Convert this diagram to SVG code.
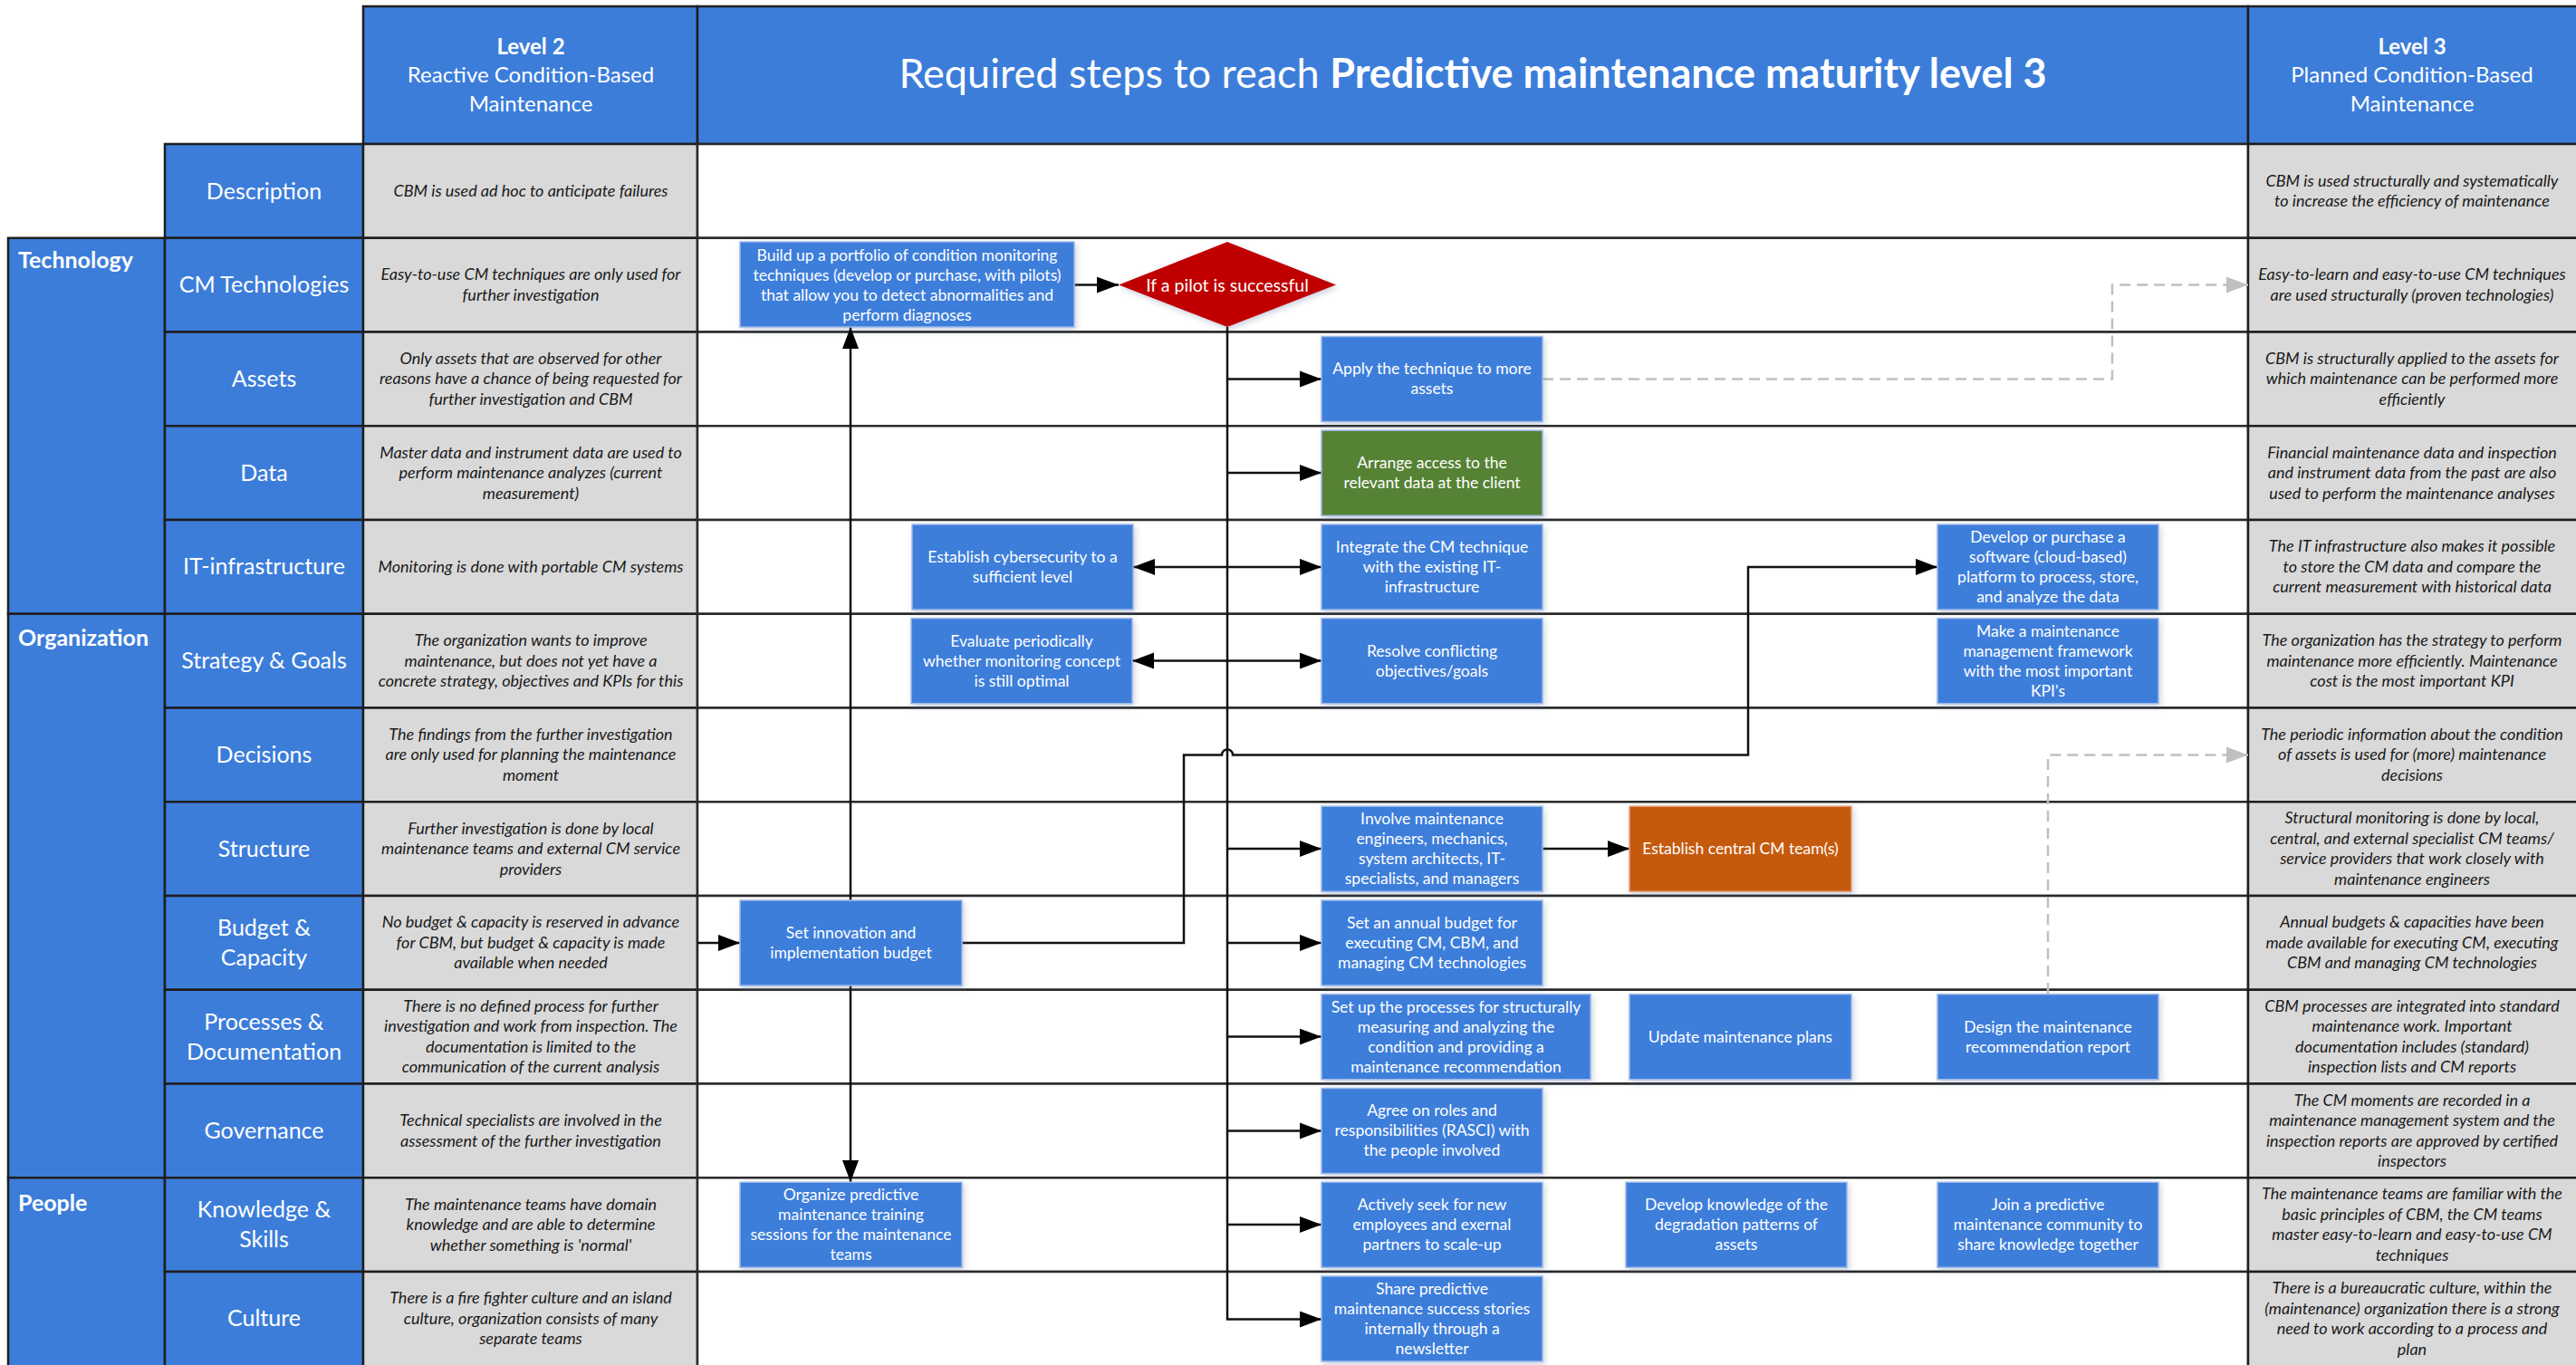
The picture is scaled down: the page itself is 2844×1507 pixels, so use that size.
<svg xmlns="http://www.w3.org/2000/svg" width="2844" height="1507" viewBox="0 0 2844 1507">
<style>
.bl{fill:#3C7DDA;stroke:#1E1E1E;stroke-width:2.5}
.gr{fill:#D9D9D9;stroke:#1E1E1E;stroke-width:2.5}
.wh{fill:#FFFFFF;stroke:#2A2A2A;stroke-width:2.5}
.cat{font-family:Lato,'Liberation Sans',sans-serif;font-weight:bold;font-size:25px;fill:#fff}
.lbl{font-family:Lato,'Liberation Sans',sans-serif;font-size:25px;fill:#fff;text-anchor:middle}
.hd{font-family:Lato,'Liberation Sans',sans-serif;font-size:24px;fill:#fff;text-anchor:middle}
.ttl{font-family:Lato,'Liberation Sans',sans-serif;font-size:45px;fill:#fff;text-anchor:middle}
.c2{font-family:Lato,'Liberation Sans',sans-serif;font-style:italic;font-size:18px;fill:#1A1A1A;text-anchor:middle}
.box{fill:#3C7EDB;stroke:#9DB8E8;stroke-width:1.5;filter:url(#sh)}
.grn{fill:#548235;stroke:#9DB8E8;stroke-width:1.5;filter:url(#sh)}
.org{fill:#C55A11;stroke:#E3A27A;stroke-width:1.5;filter:url(#sh)}
.red{fill:#C00000;filter:url(#sh)}
.bt{font-family:Lato,'Liberation Sans',sans-serif;font-size:17.5px;fill:#fff;text-anchor:middle}
.cn{stroke:#111;stroke-width:2.5;fill:none}
.ds{stroke:#C0C0C0;stroke-width:2.5;stroke-dasharray:12 7;fill:none}
</style>
<defs>
<filter id="sh" x="-10%" y="-10%" width="130%" height="140%">
<feDropShadow dx="2" dy="3" stdDeviation="3" flood-color="#5a6f96" flood-opacity="0.3"/>
</filter>
<marker id="ah" markerUnits="userSpaceOnUse" markerWidth="26" markerHeight="20" refX="24" refY="9" orient="auto-start-reverse">
<path d="M0,0 L24,9 L0,18 Z" fill="#000"/>
</marker>
<marker id="ahg" markerUnits="userSpaceOnUse" markerWidth="26" markerHeight="20" refX="24" refY="9" orient="auto">
<path d="M0,0 L24,9 L0,18 Z" fill="#C0C0C0"/>
</marker>
</defs>
<rect x="0" y="0" width="2844" height="1507" fill="#fff"/>

<g id="table">
<!-- headers -->
<rect class="bl" x="401" y="7" width="369" height="152"/>
<rect class="bl" x="770" y="7" width="1712" height="152"/>
<rect class="bl" x="2482" y="7" width="370" height="152"/>
<text class="hd" x="586" y="60" font-weight="bold">Level 2</text>
<text class="hd" x="586" y="91">Reactive Condition-Based</text>
<text class="hd" x="586" y="123">Maintenance</text>
<text class="ttl" x="1626" y="97">Required steps to reach <tspan font-weight="bold">Predictive maintenance maturity level 3</tspan></text>
<text class="hd" x="2663" y="60" font-weight="bold">Level 3</text>
<text class="hd" x="2663" y="91">Planned Condition-Based</text>
<text class="hd" x="2663" y="123">Maintenance</text>

<!-- categories -->
<rect class="bl" x="9" y="262.75" width="173" height="415"/>
<rect class="bl" x="9" y="677.75" width="173" height="622.5"/>
<rect class="bl" x="9" y="1300.25" width="173" height="212"/>
<text class="cat" x="20" y="296">Technology</text>
<text class="cat" x="20" y="713">Organization</text>
<text class="cat" x="20" y="1337">People</text>

<!-- label column -->
<rect class="bl" x="182" y="159" width="219" height="103.75"/>
<rect class="bl" x="182" y="262.75" width="219" height="103.75"/>
<rect class="bl" x="182" y="366.5" width="219" height="103.75"/>
<rect class="bl" x="182" y="470.25" width="219" height="103.75"/>
<rect class="bl" x="182" y="574" width="219" height="103.75"/>
<rect class="bl" x="182" y="677.75" width="219" height="103.75"/>
<rect class="bl" x="182" y="781.5" width="219" height="103.75"/>
<rect class="bl" x="182" y="885.25" width="219" height="103.75"/>
<rect class="bl" x="182" y="989" width="219" height="103.75"/>
<rect class="bl" x="182" y="1092.75" width="219" height="103.75"/>
<rect class="bl" x="182" y="1196.5" width="219" height="103.75"/>
<rect class="bl" x="182" y="1300.25" width="219" height="103.75"/>
<rect class="bl" x="182" y="1404" width="219" height="108"/>
<text class="lbl" x="291.5" y="219.5">Description</text>
<text class="lbl" x="291.5" y="323.1">CM Technologies</text>
<text class="lbl" x="291.5" y="426.9">Assets</text>
<text class="lbl" x="291.5" y="530.6">Data</text>
<text class="lbl" x="291.5" y="634.4">IT-infrastructure</text>
<text class="lbl" x="291.5" y="738.1">Strategy &amp; Goals</text>
<text class="lbl" x="291.5" y="841.9">Decisions</text>
<text class="lbl" x="291.5" y="945.6">Structure</text>
<text class="lbl" x="291.5" y="1032.9">Budget &amp;<tspan x="291.5" dy="33">Capacity</tspan></text>
<text class="lbl" x="291.5" y="1136.6">Processes &amp;<tspan x="291.5" dy="33">Documentation</tspan></text>
<text class="lbl" x="291.5" y="1256.9">Governance</text>
<text class="lbl" x="291.5" y="1344.1">Knowledge &amp;<tspan x="291.5" dy="33">Skills</tspan></text>
<text class="lbl" x="291.5" y="1464.4">Culture</text>

<!-- level 2 column -->
<rect class="gr" x="401" y="159" width="369" height="103.75"/>
<rect class="gr" x="401" y="262.75" width="369" height="103.75"/>
<rect class="gr" x="401" y="366.5" width="369" height="103.75"/>
<rect class="gr" x="401" y="470.25" width="369" height="103.75"/>
<rect class="gr" x="401" y="574" width="369" height="103.75"/>
<rect class="gr" x="401" y="677.75" width="369" height="103.75"/>
<rect class="gr" x="401" y="781.5" width="369" height="103.75"/>
<rect class="gr" x="401" y="885.25" width="369" height="103.75"/>
<rect class="gr" x="401" y="989" width="369" height="103.75"/>
<rect class="gr" x="401" y="1092.75" width="369" height="103.75"/>
<rect class="gr" x="401" y="1196.5" width="369" height="103.75"/>
<rect class="gr" x="401" y="1300.25" width="369" height="103.75"/>
<rect class="gr" x="401" y="1404" width="369" height="108"/>
<text class="c2" x="586" y="217">CBM is used ad hoc to anticipate failures</text>
<text class="c2" x="586" y="309.4">Easy-to-use CM techniques are only used for<tspan x="586" dy="22.5">further investigation</tspan></text>
<text class="c2" x="586" y="401.9">Only assets that are observed for other<tspan x="586" dy="22.5">reasons have a chance of being requested for</tspan><tspan x="586" dy="22.5">further investigation and CBM</tspan></text>
<text class="c2" x="586" y="505.6">Master data and instrument data are used to<tspan x="586" dy="22.5">perform maintenance analyzes (current</tspan><tspan x="586" dy="22.5">measurement)</tspan></text>
<text class="c2" x="586" y="631.9">Monitoring is done with portable CM systems</text>
<text class="c2" x="586" y="713.1">The organization wants to improve<tspan x="586" dy="22.5">maintenance, but does not yet have a</tspan><tspan x="586" dy="22.5">concrete strategy, objectives and KPIs for this</tspan></text>
<text class="c2" x="586" y="816.9">The findings from the further investigation<tspan x="586" dy="22.5">are only used for planning the maintenance</tspan><tspan x="586" dy="22.5">moment</tspan></text>
<text class="c2" x="586" y="920.6">Further investigation is done by local<tspan x="586" dy="22.5">maintenance teams and external CM service</tspan><tspan x="586" dy="22.5">providers</tspan></text>
<text class="c2" x="586" y="1024.4">No budget &amp; capacity is reserved in advance<tspan x="586" dy="22.5">for CBM, but budget &amp; capacity is made</tspan><tspan x="586" dy="22.5">available when needed</tspan></text>
<text class="c2" x="586" y="1116.9">There is no defined process for further<tspan x="586" dy="22.5">investigation and work from inspection. The</tspan><tspan x="586" dy="22.5">documentation is limited to the</tspan><tspan x="586" dy="22.5">communication of the current analysis</tspan></text>
<text class="c2" x="586" y="1243.1">Technical specialists are involved in the<tspan x="586" dy="22.5">assessment of the further investigation</tspan></text>
<text class="c2" x="586" y="1335.6">The maintenance teams have domain<tspan x="586" dy="22.5">knowledge and are able to determine</tspan><tspan x="586" dy="22.5">whether something is 'normal'</tspan></text>
<text class="c2" x="586" y="1439.4">There is a fire fighter culture and an island<tspan x="586" dy="22.5">culture, organization consists of many</tspan><tspan x="586" dy="22.5">separate teams</tspan></text>

<!-- middle column -->
<rect class="wh" x="770" y="159" width="1712" height="103.75"/>
<rect class="wh" x="770" y="262.75" width="1712" height="103.75"/>
<rect class="wh" x="770" y="366.5" width="1712" height="103.75"/>
<rect class="wh" x="770" y="470.25" width="1712" height="103.75"/>
<rect class="wh" x="770" y="574" width="1712" height="103.75"/>
<rect class="wh" x="770" y="677.75" width="1712" height="103.75"/>
<rect class="wh" x="770" y="781.5" width="1712" height="103.75"/>
<rect class="wh" x="770" y="885.25" width="1712" height="103.75"/>
<rect class="wh" x="770" y="989" width="1712" height="103.75"/>
<rect class="wh" x="770" y="1092.75" width="1712" height="103.75"/>
<rect class="wh" x="770" y="1196.5" width="1712" height="103.75"/>
<rect class="wh" x="770" y="1300.25" width="1712" height="103.75"/>
<rect class="wh" x="770" y="1404" width="1712" height="108"/>

<!-- level 3 column -->
<rect class="gr" x="2482" y="159" width="370" height="103.75"/>
<rect class="gr" x="2482" y="262.75" width="370" height="103.75"/>
<rect class="gr" x="2482" y="366.5" width="370" height="103.75"/>
<rect class="gr" x="2482" y="470.25" width="370" height="103.75"/>
<rect class="gr" x="2482" y="574" width="370" height="103.75"/>
<rect class="gr" x="2482" y="677.75" width="370" height="103.75"/>
<rect class="gr" x="2482" y="781.5" width="370" height="103.75"/>
<rect class="gr" x="2482" y="885.25" width="370" height="103.75"/>
<rect class="gr" x="2482" y="989" width="370" height="103.75"/>
<rect class="gr" x="2482" y="1092.75" width="370" height="103.75"/>
<rect class="gr" x="2482" y="1196.5" width="370" height="103.75"/>
<rect class="gr" x="2482" y="1300.25" width="370" height="103.75"/>
<rect class="gr" x="2482" y="1404" width="370" height="108"/>
<text class="c2" x="2663" y="205.8">CBM is used structurally and systematically<tspan x="2663" dy="22.5">to increase the efficiency of maintenance</tspan></text>
<text class="c2" x="2663" y="309.4">Easy-to-learn and easy-to-use CM techniques<tspan x="2663" dy="22.5">are used structurally (proven technologies)</tspan></text>
<text class="c2" x="2663" y="401.9">CBM is structurally applied to the assets for<tspan x="2663" dy="22.5">which maintenance can be performed more</tspan><tspan x="2663" dy="22.5">efficiently</tspan></text>
<text class="c2" x="2663" y="505.6">Financial maintenance data and inspection<tspan x="2663" dy="22.5">and instrument data from the past are also</tspan><tspan x="2663" dy="22.5">used to perform the maintenance analyses</tspan></text>
<text class="c2" x="2663" y="609.4">The IT infrastructure also makes it possible<tspan x="2663" dy="22.5">to store the CM data and compare the</tspan><tspan x="2663" dy="22.5">current measurement with historical data</tspan></text>
<text class="c2" x="2663" y="713.1">The organization has the strategy to perform<tspan x="2663" dy="22.5">maintenance more efficiently. Maintenance</tspan><tspan x="2663" dy="22.5">cost is the most important KPI</tspan></text>
<text class="c2" x="2663" y="816.9">The periodic information about the condition<tspan x="2663" dy="22.5">of assets is used for (more) maintenance</tspan><tspan x="2663" dy="22.5">decisions</tspan></text>
<text class="c2" x="2663" y="909.4">Structural monitoring is done by local,<tspan x="2663" dy="22.5">central, and external specialist CM teams/</tspan><tspan x="2663" dy="22.5">service providers that work closely with</tspan><tspan x="2663" dy="22.5">maintenance engineers</tspan></text>
<text class="c2" x="2663" y="1024.4">Annual budgets &amp; capacities have been<tspan x="2663" dy="22.5">made available for executing CM, executing</tspan><tspan x="2663" dy="22.5">CBM and managing CM technologies</tspan></text>
<text class="c2" x="2663" y="1116.9">CBM processes are integrated into standard<tspan x="2663" dy="22.5">maintenance work. Important</tspan><tspan x="2663" dy="22.5">documentation includes (standard)</tspan><tspan x="2663" dy="22.5">inspection lists and CM reports</tspan></text>
<text class="c2" x="2663" y="1220.6">The CM moments are recorded in a<tspan x="2663" dy="22.5">maintenance management system and the</tspan><tspan x="2663" dy="22.5">inspection reports are approved by certified</tspan><tspan x="2663" dy="22.5">inspectors</tspan></text>
<text class="c2" x="2663" y="1324.4">The maintenance teams are familiar with the<tspan x="2663" dy="22.5">basic principles of CBM, the CM teams</tspan><tspan x="2663" dy="22.5">master easy-to-learn and easy-to-use CM</tspan><tspan x="2663" dy="22.5">techniques</tspan></text>
<text class="c2" x="2663" y="1428.1">There is a bureaucratic culture, within the<tspan x="2663" dy="22.5">(maintenance) organization there is a strong</tspan><tspan x="2663" dy="22.5">need to work according to a process and</tspan><tspan x="2663" dy="22.5">plan</tspan></text>
</g>

<g id="connectors">
<path class="cn" d="M1186,314.6 H1235" marker-end="url(#ah)"/>
<path class="cn" d="M939,994 V361" marker-end="url(#ah)"/>
<path class="cn" d="M939,1087 V1305" marker-end="url(#ah)"/>
<path class="cn" d="M770,1040.9 H817" marker-end="url(#ah)"/>
<path class="cn" d="M1355,361 V1456.5 H1459" marker-end="url(#ah)"/>
<path class="cn" d="M1355,418.4 H1459" marker-end="url(#ah)"/>
<path class="cn" d="M1355,522.1 H1459" marker-end="url(#ah)"/>
<path class="cn" d="M1251,625.9 H1459" marker-start="url(#ah)" marker-end="url(#ah)"/>
<path class="cn" d="M1250,729.6 H1459" marker-start="url(#ah)" marker-end="url(#ah)"/>
<path class="cn" d="M1355,937.1 H1459" marker-end="url(#ah)"/>
<path class="cn" d="M1355,1040.9 H1459" marker-end="url(#ah)"/>
<path class="cn" d="M1355,1144.6 H1459" marker-end="url(#ah)"/>
<path class="cn" d="M1355,1248.4 H1459" marker-end="url(#ah)"/>
<path class="cn" d="M1355,1352.1 H1459" marker-end="url(#ah)"/>
<path class="cn" d="M1703,937.1 H1799" marker-end="url(#ah)"/>
<path class="cn" d="M1062,1040.9 H1307 V833.4 H1349 A6,6 0 0 1 1361,833.4 H1930 V625.9 H2139" marker-end="url(#ah)"/>
<path class="ds" d="M1703,418.4 H2332 V314.6 H2482" marker-end="url(#ahg)"/>
<path class="ds" d="M2261,1097 V833.4 H2482" marker-end="url(#ahg)"/>
</g>

<g id="n-build"><rect class="box" x="817" y="267" width="369" height="94"/><text class="bt" x="1001.5" y="287.6">Build up a portfolio of condition monitoring<tspan x="1001.5" dy="22">techniques (develop or purchase, with pilots)</tspan><tspan x="1001.5" dy="22">that allow you to detect abnormalities and</tspan><tspan x="1001.5" dy="22">perform diagnoses</tspan></text></g>
<g id="n-pilot"><polygon class="red" points="1235,314.6 1355,267 1475,314.6 1355,361"/><text class="bt" x="1355" y="321.6" style="font-size:19.5px">If a pilot is successful</text></g>
<g id="n-apply"><rect class="box" x="1459" y="371.5" width="244" height="94"/><text class="bt" x="1581" y="413.4">Apply the technique to more<tspan x="1581" dy="22">assets</tspan></text></g>
<g id="n-arrange"><rect class="grn" x="1459" y="475.2" width="244" height="94"/><text class="bt" x="1581" y="517.1">Arrange access to the<tspan x="1581" dy="22">relevant data at the client</tspan></text></g>
<g id="n-cyber"><rect class="box" x="1007" y="579" width="244" height="94"/><text class="bt" x="1129" y="620.9">Establish cybersecurity to a<tspan x="1129" dy="22">sufficient level</tspan></text></g>
<g id="n-integrate"><rect class="box" x="1459" y="579" width="244" height="94"/><text class="bt" x="1581" y="609.9">Integrate the CM technique<tspan x="1581" dy="22">with the existing IT-</tspan><tspan x="1581" dy="22">infrastructure</tspan></text></g>
<g id="n-software"><rect class="box" x="2139" y="579" width="244" height="94"/><text class="bt" x="2261" y="598.9">Develop or purchase a<tspan x="2261" dy="22">software (cloud-based)</tspan><tspan x="2261" dy="22">platform to process, store,</tspan><tspan x="2261" dy="22">and analyze the data</tspan></text></g>
<g id="n-evaluate"><rect class="box" x="1006" y="682.7" width="244" height="94"/><text class="bt" x="1128" y="713.6">Evaluate periodically<tspan x="1128" dy="22">whether monitoring concept</tspan><tspan x="1128" dy="22">is still optimal</tspan></text></g>
<g id="n-resolve"><rect class="box" x="1459" y="682.7" width="244" height="94"/><text class="bt" x="1581" y="724.6">Resolve conflicting<tspan x="1581" dy="22">objectives/goals</tspan></text></g>
<g id="n-framework"><rect class="box" x="2139" y="682.7" width="244" height="94"/><text class="bt" x="2261" y="702.6">Make a maintenance<tspan x="2261" dy="22">management framework</tspan><tspan x="2261" dy="22">with the most important</tspan><tspan x="2261" dy="22">KPI's</tspan></text></g>
<g id="n-involve"><rect class="box" x="1459" y="890.2" width="244" height="94"/><text class="bt" x="1581" y="910.1">Involve maintenance<tspan x="1581" dy="22">engineers, mechanics,</tspan><tspan x="1581" dy="22">system architects, IT-</tspan><tspan x="1581" dy="22">specialists, and managers</tspan></text></g>
<g id="n-central"><rect class="org" x="1799" y="890.2" width="245" height="94"/><text class="bt" x="1921.5" y="943.1">Establish central CM team(s)</text></g>
<g id="n-innovation"><rect class="box" x="817" y="994" width="245" height="94"/><text class="bt" x="939.5" y="1035.9">Set innovation and<tspan x="939.5" dy="22">implementation budget</tspan></text></g>
<g id="n-annual"><rect class="box" x="1459" y="994" width="244" height="94"/><text class="bt" x="1581" y="1024.9">Set an annual budget for<tspan x="1581" dy="22">executing CM, CBM, and</tspan><tspan x="1581" dy="22">managing CM technologies</tspan></text></g>
<g id="n-processes"><rect class="box" x="1459" y="1097.7" width="297" height="94"/><text class="bt" x="1607.5" y="1117.6">Set up the processes for structurally<tspan x="1607.5" dy="22">measuring and analyzing the</tspan><tspan x="1607.5" dy="22">condition and providing a</tspan><tspan x="1607.5" dy="22">maintenance recommendation</tspan></text></g>
<g id="n-update"><rect class="box" x="1799" y="1097.7" width="245" height="94"/><text class="bt" x="1921.5" y="1150.6">Update maintenance plans</text></g>
<g id="n-design"><rect class="box" x="2139" y="1097.7" width="244" height="94"/><text class="bt" x="2261" y="1139.6">Design the maintenance<tspan x="2261" dy="22">recommendation report</tspan></text></g>
<g id="n-agree"><rect class="box" x="1459" y="1201.5" width="244" height="94"/><text class="bt" x="1581" y="1232.4">Agree on roles and<tspan x="1581" dy="22">responsibilities (RASCI) with</tspan><tspan x="1581" dy="22">the people involved</tspan></text></g>
<g id="n-training"><rect class="box" x="817" y="1305.2" width="245" height="94"/><text class="bt" x="939.5" y="1325.1">Organize predictive<tspan x="939.5" dy="22">maintenance training</tspan><tspan x="939.5" dy="22">sessions for the maintenance</tspan><tspan x="939.5" dy="22">teams</tspan></text></g>
<g id="n-seek"><rect class="box" x="1459" y="1305.2" width="244" height="94"/><text class="bt" x="1581" y="1336.1">Actively seek for new<tspan x="1581" dy="22">employees and exernal</tspan><tspan x="1581" dy="22">partners to scale-up</tspan></text></g>
<g id="n-knowledge"><rect class="box" x="1795" y="1305.2" width="244" height="94"/><text class="bt" x="1917" y="1336.1">Develop knowledge of the<tspan x="1917" dy="22">degradation patterns of</tspan><tspan x="1917" dy="22">assets</tspan></text></g>
<g id="n-community"><rect class="box" x="2139" y="1305.2" width="244" height="94"/><text class="bt" x="2261" y="1336.1">Join a predictive<tspan x="2261" dy="22">maintenance community to</tspan><tspan x="2261" dy="22">share knowledge together</tspan></text></g>
<g id="n-share"><rect class="box" x="1459" y="1409" width="244" height="94"/><text class="bt" x="1581" y="1428.9">Share predictive<tspan x="1581" dy="22">maintenance  success stories</tspan><tspan x="1581" dy="22">internally through a</tspan><tspan x="1581" dy="22">newsletter</tspan></text></g>
</svg>
